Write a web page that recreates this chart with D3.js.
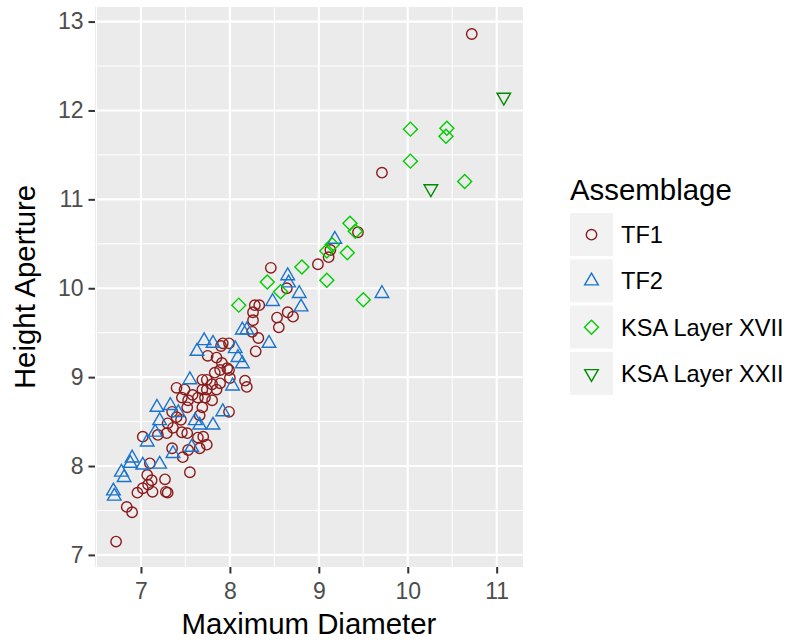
<!DOCTYPE html>
<html>
<head>
<meta charset="utf-8">
<script src="https://cdn.jsdelivr.net/npm/d3@7"></script>
<style>
  body { margin: 0; background: #fff; }
  text { font-family: "Liberation Sans", Arial, sans-serif; }
</style>
</head>
<body>
<script>
// Breite und Höhe für das SVG-Element festlegen
const width = 791;
const height = 642;

// Daten: [Maximum Diameter, Height Aperture]
const tf1 = [
  [10.72,12.86],[9.71,11.30],[9.44,10.63],[9.13,10.43],[9.11,10.35],[8.99,10.27],[8.46,10.23],
  [8.64,10.00],[8.28,9.81],[8.33,9.81],[8.26,9.73],[8.26,9.64],[8.53,9.67],[8.55,9.56],
  [8.65,9.73],[8.71,9.68],[8.25,9.51],[8.32,9.44],[8.29,9.29],[7.92,9.38],[7.99,9.38],
  [7.90,9.35],[7.75,9.24],[7.85,9.22],[7.91,9.16],[7.89,9.08],[7.97,9.10],[7.83,9.05],
  [8.00,8.99],[8.17,8.96],[8.19,8.89],[7.69,8.97],[7.74,8.97],[7.80,8.92],[7.89,8.93],
  [7.74,8.86],[7.69,8.86],[7.58,8.80],[7.40,8.88],[7.49,8.86],[7.46,8.77],[7.53,8.74],
  [7.64,8.77],[7.72,8.77],[7.80,8.74],[7.52,8.66],[7.69,8.66],[7.66,8.57],[7.35,8.61],
  [7.40,8.55],[7.45,8.52],[7.30,8.48],[7.36,8.43],[7.46,8.38],[7.52,8.37],[7.29,8.37],
  [7.02,8.33],[7.19,8.35],[7.99,8.61],[7.64,8.32],[7.70,8.33],[7.74,8.24],[7.66,8.20],
  [7.53,8.18],[7.35,8.20],[7.47,8.10],[7.55,7.93],[7.10,8.03],[7.07,7.90],[7.12,7.84],
  [7.27,7.85],[7.08,7.79],[7.02,7.75],[6.96,7.70],[7.13,7.71],[7.28,7.71],[7.30,7.70],
  [6.84,7.54],[6.90,7.48],[6.72,7.15],[7.85,8.86],[7.99,9.08]
];
const tf2 = [
  [9.71,9.94],[9.18,10.55],[8.78,9.94],[8.80,9.79],[8.65,10.14],[8.66,10.06],[8.48,9.85],
  [8.44,9.38],[8.14,9.53],[8.19,9.53],[7.71,9.41],[7.81,9.38],[7.63,9.29],[8.06,9.32],
  [8.09,9.22],[8.14,9.15],[7.55,8.97],[8.03,8.90],[7.18,8.66],[7.33,8.68],[7.42,8.60],
  [7.21,8.51],[7.16,8.38],[7.07,8.27],[7.61,8.51],[7.66,8.46],[7.81,8.46],[7.92,8.61],
  [7.57,8.21],[7.36,8.14],[6.90,8.09],[6.88,8.03],[7.02,8.01],[7.21,8.02],[6.78,7.93],
  [6.81,7.87],[6.69,7.72],[6.70,7.66]
];
const ksa17 = [
  [10.03,11.79],[10.44,11.80],[10.43,11.71],[10.03,11.43],[10.64,11.20],[9.35,10.73],
  [9.41,10.64],[9.15,10.49],[9.09,10.42],[9.32,10.40],[8.81,10.24],[9.09,10.09],
  [9.50,9.87],[8.42,10.07],[8.57,9.96],[8.10,9.81]
];
const ksa22 = [[11.08,12.15],[10.26,11.12]];

const categories = ["TF1", "TF2", "KSA Layer XVII", "KSA Layer XXII"];
const seriesData = [tf1, tf2, ksa17, ksa22];
const xTicks = [7, 8, 9, 10, 11];
const yTicks = [7, 8, 9, 10, 11, 12, 13];

// Farben und Formen je Gruppe
const color = d3.scaleOrdinal(categories, ["#8B1A1A", "#1874CD", "#00CD00", "#008B00"]);
const shapes = [
  { type: d3.symbolCircle, size: 85, rot: 0 },
  { type: d3.symbolTriangle, size: 80, rot: 0 },
  { type: d3.symbolSquare, size: 98, rot: 45 },
  { type: d3.symbolTriangle, size: 80, rot: 180 }
];

// Panel-Bereich
const panel = { left: 95, right: 523, top: 7, bottom: 567 };

const x = d3.scaleLinear().domain([6.483, 11.296]).range([panel.left, panel.right]);
const y = d3.scaleLinear().domain([6.864, 13.164]).range([panel.bottom, panel.top]);

// SVG-Container erstellen
const svg = d3.select("body").append("svg")
    .attr("width", width)
    .attr("height", height)
    .attr("viewBox", [0, 0, width, height]);

// Hintergrund des Panels
svg.append("rect")
    .attr("x", panel.left)
    .attr("y", panel.top)
    .attr("width", panel.right - panel.left)
    .attr("height", panel.bottom - panel.top)
    .attr("fill", "#EBEBEB");

// Gitterlinien (Neben- und Hauptlinien)
const xMinor = [6.5, 7.5, 8.5, 9.5, 10.5];
const yMinor = [7.5, 8.5, 9.5, 10.5, 11.5, 12.5];
const grid = svg.append("g").attr("stroke", "#fff");

grid.selectAll(".xminor").data(xMinor).join("line")
    .attr("x1", d => x(d)).attr("x2", d => x(d))
    .attr("y1", panel.top).attr("y2", panel.bottom)
    .attr("stroke-width", 1);
grid.selectAll(".yminor").data(yMinor).join("line")
    .attr("y1", d => y(d)).attr("y2", d => y(d))
    .attr("x1", panel.left).attr("x2", panel.right)
    .attr("stroke-width", 1);
grid.selectAll(".xmajor").data(xTicks).join("line")
    .attr("x1", d => x(d)).attr("x2", d => x(d))
    .attr("y1", panel.top).attr("y2", panel.bottom)
    .attr("stroke-width", 2.1);
grid.selectAll(".ymajor").data(yTicks).join("line")
    .attr("y1", d => y(d)).attr("y2", d => y(d))
    .attr("x1", panel.left).attr("x2", panel.right)
    .attr("stroke-width", 2.1);

// Achsen
const xAxis = svg.append("g")
    .attr("transform", `translate(0,${panel.bottom})`)
    .call(d3.axisBottom(x).tickValues(xTicks).tickSize(6.5).tickPadding(9).tickFormat(d3.format("d")));
const yAxis = svg.append("g")
    .attr("transform", `translate(${panel.left},0)`)
    .call(d3.axisLeft(y).tickValues(yTicks).tickSize(6.5).tickPadding(5).tickFormat(d3.format("d")));

[xAxis, yAxis].forEach(a => {
  a.select(".domain").remove();
  a.selectAll(".tick line").attr("stroke", "#333333").attr("stroke-width", 2);
  a.selectAll(".tick text")
      .attr("fill", "#4D4D4D")
      .attr("font-size", 23)
      .attr("font-family", "Liberation Sans, Arial, sans-serif");
});

// Achsentitel
svg.append("text")
    .attr("x", (panel.left + panel.right) / 2)
    .attr("y", 634)
    .attr("text-anchor", "middle")
    .attr("font-size", 29.4)
    .text("Maximum Diameter");

svg.append("text")
    .attr("transform", `translate(35,${(panel.top + panel.bottom) / 2}) rotate(-90)`)
    .attr("text-anchor", "middle")
    .attr("font-size", 29.4)
    .text("Height Aperture");

// Punkte zeichnen
const symbolPath = i => d3.symbol().type(shapes[i].type).size(shapes[i].size)();

seriesData.forEach((data, i) => {
  svg.append("g")
      .selectAll("path")
      .data(data)
      .join("path")
      .attr("d", symbolPath(i))
      .attr("transform", d => `translate(${x(d[0])},${y(d[1])}) rotate(${shapes[i].rot})`)
      .attr("fill", "none")
      .attr("stroke", color(categories[i]))
      .attr("stroke-width", 1.4);
});

// Legende
const legend = svg.append("g").attr("transform", "translate(570,0)");

legend.append("text")
    .attr("x", 0)
    .attr("y", 200)
    .attr("font-size", 29.4)
    .text("Assemblage");

const keyTop = 211.5;
const keyStep = 46.3;

const item = legend.selectAll(".item")
    .data(categories)
    .join("g")
    .attr("transform", (d, i) => `translate(0,${keyTop + i * keyStep})`);

item.append("rect")
    .attr("x", 0)
    .attr("y", 1.5)
    .attr("width", 43)
    .attr("height", 43)
    .attr("fill", "#F2F2F2");

item.append("path")
    .attr("d", (d, i) => symbolPath(i))
    .attr("transform", (d, i) => `translate(21.5,${keyStep / 2}) rotate(${shapes[i].rot})`)
    .attr("fill", "none")
    .attr("stroke", d => color(d))
    .attr("stroke-width", 1.4);

item.append("text")
    .attr("x", 51)
    .attr("y", keyStep / 2 + 8.5)
    .attr("font-size", 23.6)
    .text(d => d);
</script>
</body>
</html>
